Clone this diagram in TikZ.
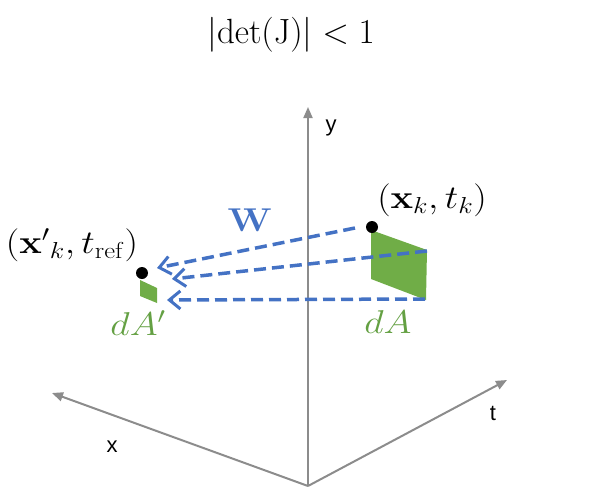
\RequirePackage{fix-cm}
\documentclass[tikz,border=0pt]{standalone}
\usepackage[no-math]{fontspec}
\newfontfamily\axisfont{Liberation Sans}
\usetikzlibrary{arrows.meta}
\definecolor{axisgray}{HTML}{8C8C8C}
\definecolor{wblue}{HTML}{4472C4}
\definecolor{agreen}{HTML}{70AD47}
\definecolor{tgreen}{HTML}{64A043}
\newcommand{\wideme}[1]{\scalebox{1.15}[1]{#1}}
\begin{document}
\begin{tikzpicture}[x=1pt,y=-1pt,
  axis/.style={draw=axisgray, line width=2pt, -{Triangle[length=11pt,width=9pt]}},
  warp/.style={draw=wblue, line width=3.5pt, dash pattern=on 12pt off 6pt,
    -{Straight Barb[length=11pt,width=18pt,line width=3pt]}},
  area/.style={fill=agreen, draw=none},
  dot/.style={circle, fill=black, inner sep=0pt, minimum size=12pt},
  axlabel/.style={font=\axisfont\fontsize{22}{24}\selectfont, inner sep=0pt},
  mlabel/.style={font=\fontsize{33}{38}\selectfont, inner sep=0pt},
  title/.style={font=\fontsize{35}{40}\selectfont, inner sep=0pt}
]
\useasboundingbox (0,0) rectangle (598,501);
% axes
\coordinate (O) at (308,486);
\coordinate (Xend) at (52,393);
\coordinate (Tend) at (507,380);
\coordinate (Yend) at (308,107);
\draw[axis] (O) -- (Xend);
\draw[axis] (O) -- (Tend);
\draw[axis] (O) -- (Yend);
\node[axlabel] (xlab) at (112,447) {x};
\node[axlabel] (tlab) at (493,413) {t};
\node[axlabel] (ylab) at (331,128) {y};
% title
\node[title] (ttl) at (291,35) {$|\mathrm{det}(\mathrm{J})| < 1$};
% areas
\fill[area] (371,230) -- (427,250) -- (426,300) -- (371,279) -- cycle;
\fill[area] (140,280) -- (157,288) -- (157,303) -- (140,296) -- cycle;
% points
\node[dot] (pk) at (372,227) {};
\node[dot] (pr) at (142,273) {};
% warp arrows
\coordinate (s1) at (355,228);
\coordinate (e1) at (157,268);
\coordinate (s2) at (427,251);
\coordinate (e2) at (172,279);
\coordinate (s3) at (425,299);
\coordinate (e3) at (167,300);
\draw[warp] (s1) -- (e1);
\draw[warp] (s2) -- (e2);
\draw[warp] (s3) -- (e3);
% labels
\node[mlabel] (lk) at (432,200) {\wideme{$(\mathbf{x}_k, t_k)$}};
\node[mlabel] (lr) at (72,245) {\wideme{$({\mathbf{x}'}_k, t_{\mathrm{ref}})$}};
\node[mlabel, text=wblue] (lw) at (250,220) {\wideme{$\mathbf{W}$}};
\node[mlabel, text=tgreen] (lda) at (388,322) {\wideme{$dA$}};
\node[mlabel, text=tgreen] (ldap) at (138,323) {\wideme{$dA'$}};
\end{tikzpicture}
\end{document}
